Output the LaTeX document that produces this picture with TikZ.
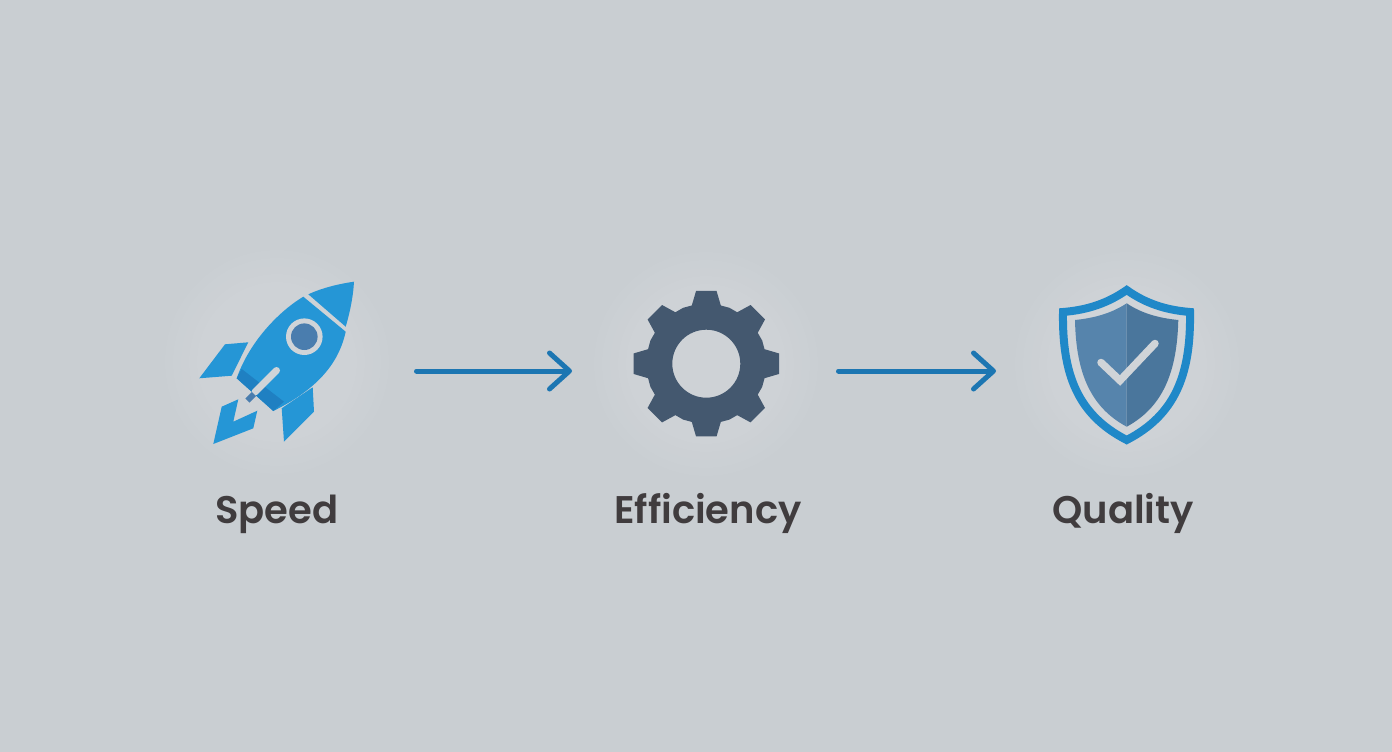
\documentclass[tikz,border=0pt]{standalone}
\usepackage{fontspec}
\setmainfont{Poppins}[BoldFont={Poppins SemiBold},Ligatures=NoCommon]
\usetikzlibrary{arrows.meta}
\definecolor{bg}{HTML}{C9CED2}
\definecolor{halo}{HTML}{CED2D6}
\definecolor{rocketblue}{HTML}{2596D6}
\definecolor{rocketdark}{HTML}{1F80C2}
\definecolor{pale}{HTML}{D0D4D8}
\definecolor{porthole}{HTML}{4A7DAE}
\definecolor{gearcol}{HTML}{44586F}
\definecolor{ringblue}{HTML}{1F88C8}
\definecolor{shieldL}{HTML}{5684AC}
\definecolor{shieldR}{HTML}{4A769C}
\definecolor{arrowcol}{HTML}{1C76B2}
\definecolor{labelcol}{HTML}{403C3E}
\tikzset{
  iconbox/.style={inner sep=0pt,outer sep=0pt,minimum height=160pt},
  flow/.style={arrowcol,line width=5pt,line cap=round,shorten <=2.5pt,
    -{Straight Barb[length=20pt,width=36pt,line width=5pt,round]}},
  caption/.style={anchor=base,text=labelcol,font=\fontsize{38.5}{42}\selectfont\bfseries,inner sep=0pt}
}
\begin{document}
\begin{tikzpicture}[x=1pt,y=-1pt]
\fill[bg] (0,0) rectangle (1392,752);
\useasboundingbox (0,0) rectangle (1392,752);
% halos, in one-level steps so that no edge shows
\foreach \cx/\cy in {277/362,706/364,1127/364}{
  \foreach \r/\p in {112/20,104/40,96/60,88/80,80/100}{
    \fill[halo!\p!bg] (\cx,\cy) circle (\r pt);
  }
}
% anchor boxes
\node[iconbox,minimum width=214pt] (rocket) at (307,371) {};
\node[iconbox,minimum width=264pt] (gear) at (704,371) {};
\node[iconbox,minimum width=200pt] (shield) at (1096,371) {};
% rocket
\fill[rocketblue] (225,344.3) -- (248.3,342.3) -- (231.7,375.7) -- (199.3,378.3) -- cycle;
\fill[rocketblue] (312.7,387.3) -- (314,411.7) -- (284,441.7) -- (281.7,408.3) -- cycle;
\fill[rocketblue] (238.3,399.3) -- (221.7,406.7) -- (213.3,444) -- (253.3,428.3) -- (257.3,410.7) -- (233.3,421.7) -- cycle;
\fill[rocketblue] (236.7,378.3) .. controls (250,340) and (281,310) .. (303.3,296.7)
  -- (345.7,331.7) .. controls (340,358) and (323,386.5) .. (273.3,411) -- cycle;
\fill[rocketdark] (241.7,369) -- (236.7,378.3) -- (273.3,411) -- (284,401.7) -- cycle;
\fill[rocketblue] (308.3,294.3) .. controls (322,288) and (338,284) .. (354,281.7)
  .. controls (353,298) and (350,312) .. (345.7,326.7) -- cycle;
\draw[pale,line width=7pt,line cap=round] (276.5,370.5) -- (255,392);
\draw[porthole,line width=6pt] (254,394) -- (247.5,400.5);
\fill[pale] (304.3,336.7) circle (18.3pt);
\fill[porthole] (304.3,336.7) circle (13.3pt);
% gear
\begin{scope}[shift={(706.3,363.7)}]
\fill[gearcol,even odd rule] (-14:60)
  \foreach \a in {0,45,...,315} {
    -- (\a-14:60) -- (\a-8:73.5) -- (\a+8:73.5) -- (\a+14:60) -- (\a+22.5:60.5)
  } -- cycle (0,0) circle (34pt);
\end{scope}
% shield
\filldraw[fill=pale,draw=ringblue,line width=8pt,line join=miter]
  (1126.7,290) .. controls (1145,303) and (1165,310) .. (1190,312)
  .. controls (1191,375) and (1175,415) .. (1126.7,440)
  .. controls (1078,415) and (1062,375) .. (1063,312)
  .. controls (1088,310) and (1108,303) .. (1126.7,290) -- cycle;
\fill[shieldL] (1126.7,303.3) .. controls (1112,313) and (1095,318) .. (1075,320)
  .. controls (1076,372) and (1090,407) .. (1126.7,426.7) -- cycle;
\fill[shieldR] (1126.7,303.3) .. controls (1141,313) and (1158,318) .. (1178.3,320)
  .. controls (1177,372) and (1163,407) .. (1126.7,426.7) -- cycle;
\draw[pale,line width=7.5pt,line cap=round,line join=miter] (1101,362.5) -- (1120,380.5) -- (1155,343.5);
% connectors
\draw[flow] (rocket.east) -- (gear.west);
\draw[flow] (gear.east) -- (shield.west);
% labels
\node[caption] (speed) at (277,523) {Speed};
\node[caption] (efficiency) at (708,523) {Efficiency};
\node[caption] (quality) at (1123,523) {Quality};
\end{tikzpicture}
\end{document}
